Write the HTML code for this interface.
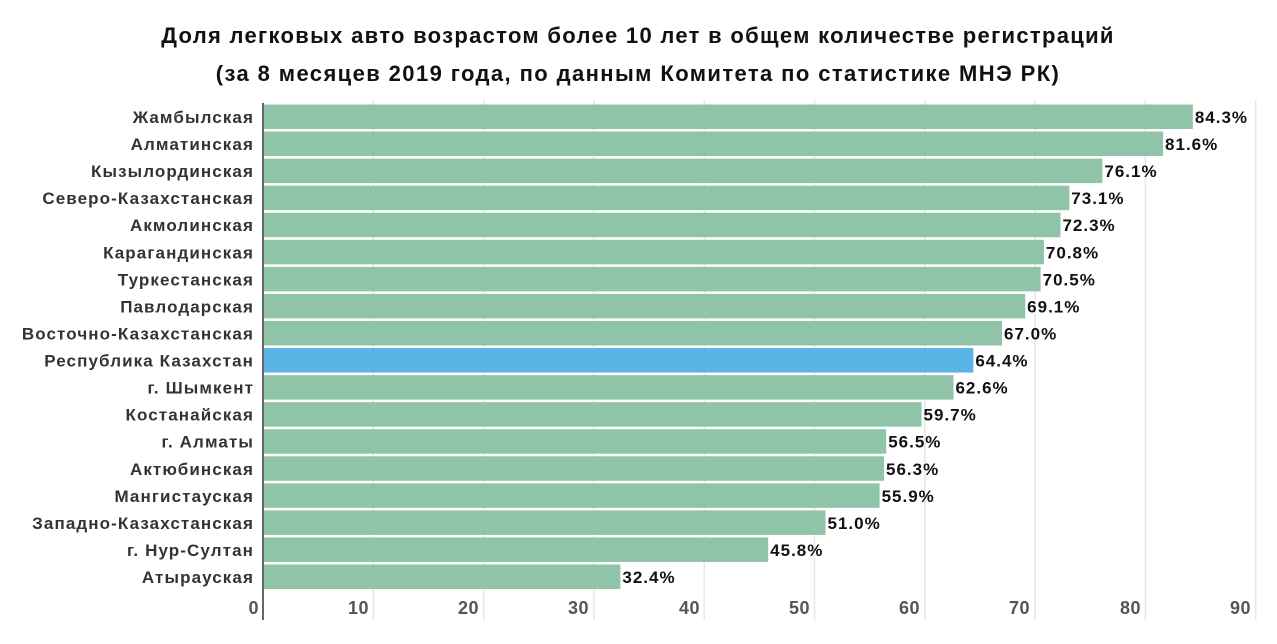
<!DOCTYPE html>
<html><head><meta charset="utf-8"><style>
body{margin:0;background:#fff;width:1277px;height:639px;overflow:hidden;font-family:"Liberation Sans",sans-serif}
</style></head><body>
<svg width="1277" height="639" xmlns="http://www.w3.org/2000/svg" font-family="Liberation Sans, sans-serif">
<text x="638" y="43" text-anchor="middle" font-size="22" font-weight="bold" fill="#111" letter-spacing="1.3">Доля легковых авто возрастом более 10 лет в общем количестве регистраций</text>
<text x="638" y="81" text-anchor="middle" font-size="22" font-weight="bold" fill="#111" letter-spacing="1.4">(за 8 месяцев 2019 года, по данным Комитета по статистике МНЭ РК)</text>
<g stroke="#e6e6e6" stroke-width="1.5">
<line x1="373.3" y1="100" x2="373.3" y2="620"/><line x1="483.6" y1="100" x2="483.6" y2="620"/><line x1="593.9" y1="100" x2="593.9" y2="620"/><line x1="704.2" y1="100" x2="704.2" y2="620"/><line x1="814.5" y1="100" x2="814.5" y2="620"/><line x1="924.8" y1="100" x2="924.8" y2="620"/><line x1="1035.1" y1="100" x2="1035.1" y2="620"/><line x1="1145.4" y1="100" x2="1145.4" y2="620"/><line x1="1255.7" y1="100" x2="1255.7" y2="620"/>
</g>
<g id="bars" font-size="17"></g>
<line x1="263" y1="103" x2="263" y2="620" stroke="#666" stroke-width="2"/>
<g font-size="18" font-weight="bold" fill="#555" text-anchor="end" letter-spacing="0.5">
<text x="259" y="614">0</text><text x="369" y="614">10</text><text x="479" y="614">20</text><text x="589" y="614">30</text><text x="700" y="614">40</text><text x="810" y="614">50</text><text x="920" y="614">60</text><text x="1030" y="614">70</text><text x="1141" y="614">80</text><text x="1251" y="614">90</text>
</g>
</svg>
<script>
var d=[["Жамбылская",84.3],["Алматинская",81.6],["Кызылординская",76.1],["Северо-Казахстанская",73.1],["Акмолинская",72.3],["Карагандинская",70.8],["Туркестанская",70.5],["Павлодарская",69.1],["Восточно-Казахстанская",67.0],["Республика Казахстан",64.4],["г. Шымкент",62.6],["Костанайская",59.7],["г. Алматы",56.5],["Актюбинская",56.3],["Мангистауская",55.9],["Западно-Казахстанская",51.0],["г. Нур-Султан",45.8],["Атырауская",32.4]];
var g=document.getElementById('bars'),s='';
d.forEach(function(r,i){var c=117+i*27.06,w=r[1]*11.03,x=263+w;
s+='<rect x="263" y="'+(c-12.5)+'" width="'+w+'" height="24.5" fill="'+(i==9?'#5ab4e5':'#8fc4a8')+'"/>';
s+='<text x="254" y="'+(c+6)+'" text-anchor="end" fill="#333" font-weight="bold" font-size="17" letter-spacing="1.1">'+r[0]+'</text>';
s+='<text x="'+(x+2)+'" y="'+(c+6)+'" fill="#111" font-weight="bold" font-size="17" letter-spacing="1">'+r[1].toFixed(1)+'%</text>';});
g.innerHTML=s;
</script>
</body></html>
